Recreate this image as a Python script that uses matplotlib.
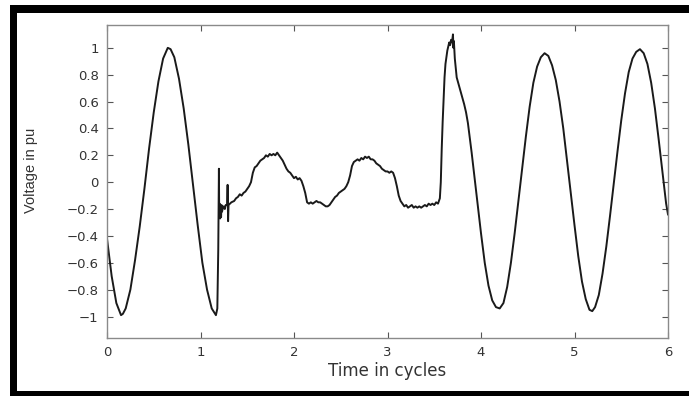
import matplotlib
matplotlib.use("Agg")
import matplotlib.pyplot as plt
from matplotlib.patches import Rectangle

# Time (cycles) and voltage (pu)
time_cycles = [
    0.00, 0.05, 0.10, 0.15, 0.17, 0.20, 0.25, 0.30, 0.35, 0.40, 0.45, 0.50, 0.55, 0.60,
    0.65, 0.68, 0.72, 0.77, 0.82, 0.87, 0.92, 0.97, 1.02, 1.07, 1.12, 1.165, 1.18, 1.19,
    1.197, 1.20, 1.205, 1.21, 1.215, 1.22, 1.225, 1.23, 1.24, 1.25, 1.26, 1.27, 1.285,
    1.29, 1.295, 1.30, 1.33, 1.36, 1.38, 1.40, 1.42, 1.44, 1.46, 1.48, 1.50, 1.52, 1.54,
    1.56, 1.58, 1.60, 1.62, 1.64, 1.66, 1.68, 1.70, 1.72, 1.74, 1.76, 1.78, 1.80, 1.82,
    1.84, 1.86, 1.88, 1.90, 1.92, 1.94, 1.96, 1.98, 2.00, 2.02, 2.04, 2.06, 2.08, 2.10,
    2.12, 2.14, 2.16, 2.18, 2.20, 2.22, 2.24, 2.26, 2.28, 2.30, 2.32, 2.34, 2.36, 2.38,
    2.40, 2.42, 2.44, 2.46, 2.48, 2.50, 2.52, 2.54, 2.56, 2.58, 2.60, 2.62, 2.64, 2.66,
    2.68, 2.70, 2.72, 2.74, 2.76, 2.78, 2.80, 2.82, 2.84, 2.86, 2.88, 2.90, 2.92, 2.94,
    2.96, 2.98, 3.00, 3.02, 3.04, 3.06, 3.08, 3.10, 3.12, 3.14, 3.16, 3.18, 3.20, 3.22,
    3.24, 3.26, 3.28, 3.30, 3.32, 3.34, 3.36, 3.38, 3.40, 3.42, 3.44, 3.46, 3.48, 3.50,
    3.52, 3.54, 3.56, 3.57, 3.58, 3.59, 3.60, 3.61, 3.62, 3.64, 3.66, 3.67, 3.68, 3.69,
    3.70, 3.705, 3.71, 3.72, 3.74, 3.76, 3.78, 3.80, 3.82, 3.84, 3.86, 3.88, 3.90, 3.92,
    3.94, 3.96, 3.98, 4.00, 4.04, 4.08, 4.12, 4.16, 4.20, 4.24, 4.28, 4.32, 4.36, 4.40,
    4.44, 4.48, 4.52, 4.56, 4.60, 4.64, 4.68, 4.72, 4.76, 4.80, 4.84, 4.88, 4.92, 4.96,
    5.00, 5.04, 5.08, 5.12, 5.16, 5.19, 5.22, 5.26, 5.30, 5.34, 5.38, 5.42, 5.46, 5.50,
    5.54, 5.58, 5.62, 5.66, 5.70, 5.74, 5.78, 5.82, 5.86, 5.90, 5.94, 5.98, 6.00,
]
voltage_pu = [
    -0.42, -0.70, -0.90, -0.99, -0.98, -0.94, -0.80, -0.58, -0.33, -0.05, 0.25, 0.52, 0.75, 0.92,
    1.00, 0.99, 0.93, 0.77, 0.55, 0.28, -0.02, -0.32, -0.60, -0.80, -0.94, -0.99, -0.94, -0.50,
    0.10, -0.25, -0.16, -0.27, -0.18, -0.26, -0.17, -0.22, -0.19, -0.18, -0.20, -0.17, -0.17,
    -0.02, -0.29, -0.17, -0.15, -0.14, -0.12, -0.11, -0.09, -0.10, -0.08, -0.07, -0.05, -0.03, 0.00,
    0.07, 0.11, 0.12, 0.14, 0.16, 0.17, 0.18, 0.20, 0.19, 0.21, 0.20, 0.21, 0.20, 0.22,
    0.20, 0.18, 0.16, 0.13, 0.10, 0.08, 0.07, 0.05, 0.03, 0.04, 0.02, 0.03, 0.01, -0.03,
    -0.08, -0.15, -0.16, -0.15, -0.16, -0.15, -0.14, -0.15, -0.15, -0.16, -0.17, -0.18, -0.18, -0.17,
    -0.15, -0.13, -0.11, -0.10, -0.08, -0.07, -0.06, -0.05, -0.03, 0.00, 0.05, 0.12, 0.15, 0.16,
    0.17, 0.16, 0.18, 0.17, 0.19, 0.18, 0.19, 0.17, 0.17, 0.16, 0.14, 0.13, 0.12, 0.10,
    0.09, 0.08, 0.08, 0.07, 0.08, 0.07, 0.03, -0.03, -0.10, -0.14, -0.16, -0.18, -0.17, -0.19,
    -0.18, -0.17, -0.19, -0.18, -0.19, -0.18, -0.19, -0.18, -0.17, -0.18, -0.16, -0.17, -0.16, -0.17,
    -0.15, -0.16, -0.12, 0.00, 0.25, 0.45, 0.62, 0.78, 0.88, 0.98, 1.04, 1.02, 1.06, 1.04,
    1.10, 1.00, 1.05, 0.92, 0.78, 0.73, 0.68, 0.63, 0.58, 0.52, 0.44, 0.33, 0.22, 0.10,
    -0.02, -0.14, -0.26, -0.38, -0.60, -0.77, -0.88, -0.93, -0.94, -0.90, -0.78, -0.60, -0.38, -0.14,
    0.10, 0.34, 0.56, 0.74, 0.86, 0.93, 0.96, 0.94, 0.87, 0.76, 0.60, 0.40, 0.16, -0.08,
    -0.32, -0.55, -0.74, -0.87, -0.95, -0.96, -0.93, -0.84, -0.68, -0.48, -0.25, -0.01, 0.23, 0.46,
    0.66, 0.82, 0.92, 0.97, 0.99, 0.96, 0.88, 0.74, 0.55, 0.32, 0.08, -0.16, -0.24,
]

x_ticks = [0, 1, 2, 3, 4, 5, 6]
y_ticks = [-1, -0.8, -0.6, -0.4, -0.2, 0, 0.2, 0.4, 0.6, 0.8, 1]
y_tick_labels = ["\u22121", "\u22120.8", "\u22120.6", "\u22120.4", "\u22120.2", "0",
                 "0.2", "0.4", "0.6", "0.8", "1"]
x_label = "Time in cycles"
y_label = "Voltage in pu"

W, H = 689, 396
fig = plt.figure(figsize=(W / 100, H / 100), dpi=100)
fig.patch.set_facecolor("white")

ax = fig.add_axes([107 / W, 1 - 338 / H, (668 - 107) / W, (338 - 25) / H])
ax.plot(time_cycles, voltage_pu, color="#1a1a1a", lw=1.4)
ax.set_xlim(0, 6)
ax.set_ylim(-1.16, 1.17)
ax.set_xticks(x_ticks)
ax.set_xticklabels([str(v) for v in x_ticks])
ax.set_yticks(y_ticks)
ax.set_yticklabels(y_tick_labels)

spine_col = "#8a8a8a"
for s in ax.spines.values():
    s.set_color(spine_col)
    s.set_linewidth(1.0)
ax.tick_params(direction="in", length=4, width=0.8, color="#555555",
               top=True, right=True, labelsize=9.5, labelcolor="#333333", pad=6)
for lbl in ax.get_xticklabels() + ax.get_yticklabels():
    lbl.set_family("DejaVu Sans")

ax.set_xlabel(x_label, fontsize=12, family="DejaVu Sans", color="#333333")
ax.xaxis.set_label_coords(0.5, -0.105)
ax.xaxis.label.set_va("center")
ax.set_ylabel(y_label, fontsize=10.5, family="Liberation Sans", color="#333333")
ax.yaxis.set_label_coords(-0.135, 0.537)
ax.yaxis.label.set_va("center")

# black scan frame
frame = [
    (10 / W, 1 - 13 / H, 1 - 10 / W, 8 / H),   # top band
    (10 / W, 0, 7 / W, 1 - 5 / H),             # left band
    (10 / W, 0, 1 - 10 / W, 5 / H),            # bottom band
]
for (x0, y0, w, h) in frame:
    fig.add_artist(Rectangle((x0, y0), w, h, transform=fig.transFigure,
                             facecolor="black", edgecolor="none"))

fig.savefig("out.png", dpi=100)
